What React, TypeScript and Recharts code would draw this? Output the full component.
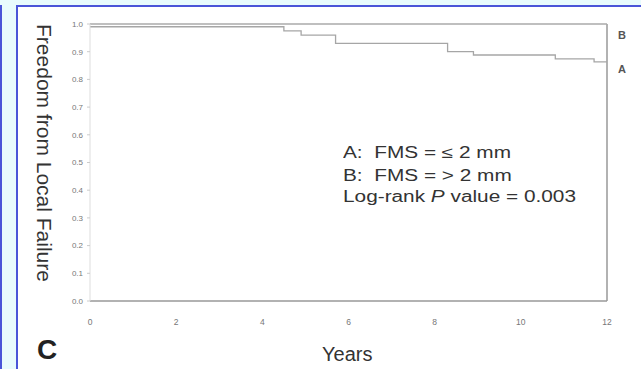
import { FC } from "react";
import { Line, LineChart, ReferenceLine, XAxis, YAxis } from "recharts";

const years = [0, 2, 4, 6, 8, 10, 12];
const freedomTicks = [0, 0.1, 0.2, 0.3, 0.4, 0.5, 0.6, 0.7, 0.8, 0.9, 1.0];

// group A: FMS <= 2 mm
const timeA = [0, 4.5, 4.9, 5.7, 8.3, 8.9, 10.8, 11.7, 12];
const freedomA = [0.99, 0.975, 0.96, 0.93, 0.9, 0.888, 0.874, 0.863, 0.863];

// group B: FMS > 2 mm
const timeB = [0, 12];
const freedomB = [1.0, 1.0];

const legendLines = ["A:  FMS = \u2264 2 mm", "B:  FMS = > 2 mm"];

const blue = "#4a55d8";
const sans = "'Liberation Sans', Arial, sans-serif";

const App: FC = () => {
  const dataA = timeA.map((t, i) => ({ t, v: freedomA[i] }));
  const dataB = timeB.map((t, i) => ({ t, v: freedomB[i] }));

  return (
    <div
      style={{
        position: "absolute",
        left: 0,
        top: 0,
        width: 641,
        height: 369,
        background: "#e8fbfd",
        overflow: "hidden",
        fontFamily: sans,
      }}
    >
      <div style={{ position: "absolute", left: 0, top: 5, width: 2, height: 364, background: blue }} />
      <div
        style={{
          position: "absolute",
          left: 16,
          top: 5,
          width: 625,
          height: 364,
          background: "#fff",
          borderLeft: `2px solid ${blue}`,
          borderTop: `2px solid ${blue}`,
        }}
      />
      <div style={{ position: "absolute", left: 0, top: 0 }}>
        <LineChart width={641} height={369} margin={{ top: 24, right: 34, left: 0, bottom: 28 }}>
          <XAxis
            dataKey="t"
            type="number"
            domain={[0, 12]}
            ticks={years}
            height={40}
            axisLine={{ stroke: "#999", strokeWidth: 1.5 }}
            tickLine={false}
            tickSize={0}
            tickMargin={18}
            tick={{ fontSize: 8.5, fill: "#777", fontFamily: sans }}
          />
          <YAxis
            type="number"
            domain={[0, 1]}
            ticks={freedomTicks}
            width={90}
            axisLine={{ stroke: "#ddd" }}
            tickLine={{ stroke: "#ccc" }}
            tickSize={3}
            tickMargin={4}
            tickFormatter={(v: number) => v.toFixed(1)}
            tick={{ fontSize: 8, fill: "#777", fontFamily: sans }}
          />
          <ReferenceLine x={12} stroke="#999" strokeWidth={1.5} />
          <Line
            data={dataB}
            dataKey="v"
            type="stepAfter"
            stroke="#aaa"
            strokeWidth={1.5}
            dot={false}
            isAnimationActive={false}
          />
          <Line
            data={dataA}
            dataKey="v"
            type="stepAfter"
            stroke="#a6a6a6"
            strokeWidth={1.3}
            dot={false}
            isAnimationActive={false}
          />
        </LineChart>
      </div>

      {/* curve labels */}
      <div style={{ position: "absolute", left: 618, top: 28, fontSize: 11, fontWeight: "bold", color: "#555", lineHeight: "14px" }}>B</div>
      <div style={{ position: "absolute", left: 618, top: 62, fontSize: 11, fontWeight: "bold", color: "#555", lineHeight: "14px" }}>A</div>

      {/* legend text */}
      {legendLines.map((s, i) => (
        <div
          key={i}
          style={{
            position: "absolute",
            left: 343,
            top: 143 + i * 23,
            fontSize: 16,
            lineHeight: "20px",
            color: "#333",
            whiteSpace: "pre",
            transform: "scaleX(1.3)",
            transformOrigin: "0 0",
          }}
        >
          {s}
        </div>
      ))}
      <div
        style={{
          position: "absolute",
          left: 343,
          top: 187,
          fontSize: 16,
          lineHeight: "20px",
          color: "#333",
          whiteSpace: "pre",
          transform: "scaleX(1.3)",
          transformOrigin: "0 0",
        }}
      >
        Log-rank <i>P</i> value = 0.003
      </div>

      {/* axis titles */}
      <div
        style={{
          position: "absolute",
          left: 44 - 160,
          top: 153 - 12,
          width: 320,
          height: 24,
          lineHeight: "24px",
          textAlign: "center",
          fontSize: 21,
          color: "#333",
          transform: "rotate(90deg)",
          whiteSpace: "nowrap",
        }}
      >
        Freedom from Local Failure
      </div>
      <div style={{ position: "absolute", left: 322, top: 342, fontSize: 20, lineHeight: "24px", color: "#333" }}>Years</div>
      <div style={{ position: "absolute", left: 37, top: 333, fontSize: 28, fontWeight: "bold", lineHeight: "34px", color: "#222" }}>C</div>
    </div>
  );
};

export default App;
